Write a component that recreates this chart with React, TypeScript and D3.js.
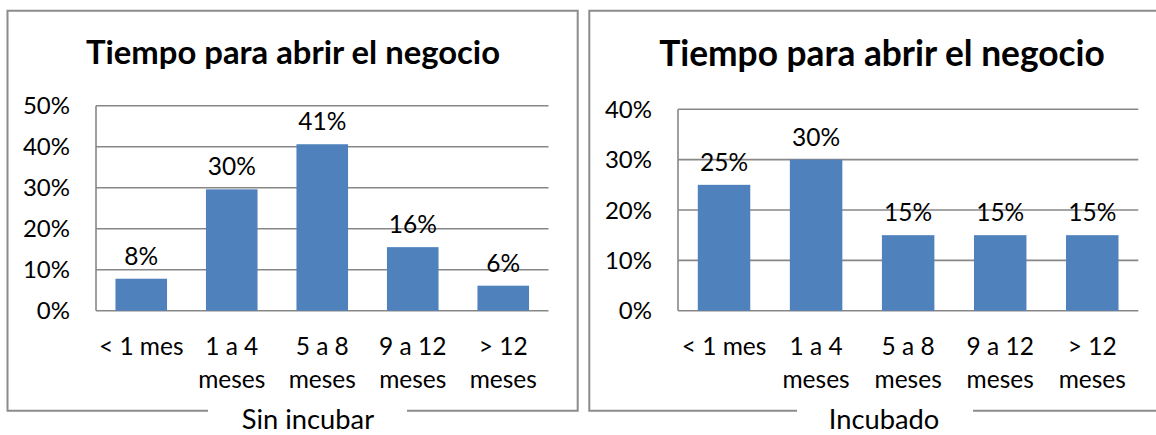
import { useEffect, useRef } from "react";
import * as d3 from "d3";

// categories, two lines each
const categories = ["< 1 mes", "1 a 4 meses", "5 a 8 meses", "9 a 12 meses", "> 12 meses"];
const categoryLines = [["< 1 mes"], ["1 a 4", "meses"], ["5 a 8", "meses"], ["9 a 12", "meses"], ["> 12", "meses"]];

const sinIncubarValues = [7.8, 29.6, 40.6, 15.5, 6.1];
const incubadoValues = [25, 30, 15, 15, 15];

const sinIncubarTicks = [0, 10, 20, 30, 40, 50];
const incubadoTicks = [0, 10, 20, 30, 40];

const title = "Tiempo para abrir el negocio";
const captions = ["Sin incubar", "Incubado"];

const FONT = "Lato, 'Open Sans', sans-serif";
const GRID = "#878787";
const BAR = "#4F81BD";
const LABEL_SIZE = 24.5;

interface PanelSpec {
    values: number[];
    ticks: number[];
    caption: string;
    box: [number, number];
    gap: [number, number];
    captionX: number;
    titleX: number;
    titleY: number;
    titleSize: number;
    plot: { x0: number; x1: number; y0: number; yTop: number };
}

export default function App() {
    const ref = useRef<SVGSVGElement | null>(null);

    useEffect(() => {
        if (!ref.current) return;
        const width = 1156;
        const height = 435;
        const svg = d3.select(ref.current);
        svg.selectAll("*").remove();
        svg.attr("width", width).attr("height", height);
        svg.append("rect").attr("width", width).attr("height", height).attr("fill", "#fff");

        const panels: PanelSpec[] = [
            {
                values: sinIncubarValues,
                ticks: sinIncubarTicks,
                caption: captions[0],
                box: [7.5, 577.7],
                gap: [208, 407],
                captionX: 308,
                titleX: 293,
                titleY: 64,
                titleSize: 32.8,
                plot: { x0: 96, x1: 548.5, y0: 310.7, yTop: 105.7 },
            },
            {
                values: incubadoValues,
                ticks: incubadoTicks,
                caption: captions[1],
                box: [589.3, 1175],
                gap: [797, 973],
                captionX: 884,
                titleX: 882,
                titleY: 66,
                titleSize: 35.3,
                plot: { x0: 678, x1: 1138.3, y0: 310.7, yTop: 109.3 },
            },
        ];

        const boxTop = 10.7;
        const boxBottom = 410.7;

        panels.forEach((p) => {
            const g = svg.append("g");
            const [bx0, bx1] = p.box;

            // frame with a gap in the bottom edge for the caption
            const frame = d3.path();
            frame.moveTo(p.gap[0], boxBottom);
            frame.lineTo(bx0, boxBottom);
            frame.lineTo(bx0, boxTop);
            frame.lineTo(bx1, boxTop);
            frame.lineTo(bx1, boxBottom);
            frame.lineTo(p.gap[1], boxBottom);
            g.append("path")
                .attr("d", frame.toString())
                .attr("fill", "none")
                .attr("stroke", "#8c8c8c")
                .attr("stroke-width", 2);

            g.append("text")
                .attr("x", p.titleX)
                .attr("y", p.titleY)
                .attr("text-anchor", "middle")
                .attr("font-family", FONT)
                .attr("font-weight", "bold")
                .attr("font-size", p.titleSize)
                .attr("fill", "#000")
                .text(title);

            const x = d3.scaleBand<string>()
                .domain(categories)
                .range([p.plot.x0, p.plot.x1])
                .paddingInner(0.43)
                .paddingOuter(0.215);

            const maxTick = p.ticks[p.ticks.length - 1];
            const y = d3.scaleLinear().domain([0, maxTick]).range([p.plot.y0, p.plot.yTop]);

            // gridlines
            g.selectAll("line.grid")
                .data(p.ticks)
                .join("line")
                .attr("class", "grid")
                .attr("x1", p.plot.x0)
                .attr("x2", p.plot.x1)
                .attr("y1", (d) => y(d))
                .attr("y2", (d) => y(d))
                .attr("stroke", GRID)
                .attr("stroke-width", 1.6);

            // y axis line
            g.append("line")
                .attr("x1", p.plot.x0)
                .attr("x2", p.plot.x0)
                .attr("y1", y(0))
                .attr("y2", y(maxTick))
                .attr("stroke", GRID)
                .attr("stroke-width", 1.6);

            g.selectAll("text.tick")
                .data(p.ticks)
                .join("text")
                .attr("class", "tick")
                .attr("x", p.plot.x0 - 26)
                .attr("y", (d) => y(d) + 8.5)
                .attr("text-anchor", "end")
                .attr("font-family", FONT)
                .attr("font-size", 24)
                .attr("fill", "#000")
                .text((d) => `${d}%`);

            // bars
            g.selectAll("rect.bar")
                .data(p.values)
                .join("rect")
                .attr("class", "bar")
                .attr("x", (_, i) => x(categories[i])!)
                .attr("width", x.bandwidth())
                .attr("y", (d) => y(d))
                .attr("height", (d) => y(0) - y(d))
                .attr("fill", BAR);

            // data labels
            g.selectAll("text.value")
                .data(p.values)
                .join("text")
                .attr("class", "value")
                .attr("x", (_, i) => x(categories[i])! + x.bandwidth() / 2)
                .attr("y", (d) => y(d) - 14)
                .attr("text-anchor", "middle")
                .attr("font-family", FONT)
                .attr("font-size", LABEL_SIZE)
                .attr("fill", "#000")
                .text((d) => `${Math.round(d)}%`);

            // category labels
            categoryLines.forEach((lines, i) => {
                const cx = x(categories[i])! + x.bandwidth() / 2;
                lines.forEach((line, j) => {
                    g.append("text")
                        .attr("x", cx)
                        .attr("y", 355 + j * 33)
                        .attr("text-anchor", "middle")
                        .attr("font-family", FONT)
                        .attr("font-size", LABEL_SIZE)
                        .attr("fill", "#000")
                        .text(line);
                });
            });

            g.append("text")
                .attr("x", p.captionX)
                .attr("y", 429)
                .attr("text-anchor", "middle")
                .attr("font-family", FONT)
                .attr("font-size", 27.3)
                .attr("fill", "#000")
                .text(p.caption);
        });
    }, []);

    return (
        <svg
            ref={(el) => { if (el) ref.current = el; }}
            style={{ position: "absolute", left: 0, top: 0, display: "block" }}
        />
    );
}
